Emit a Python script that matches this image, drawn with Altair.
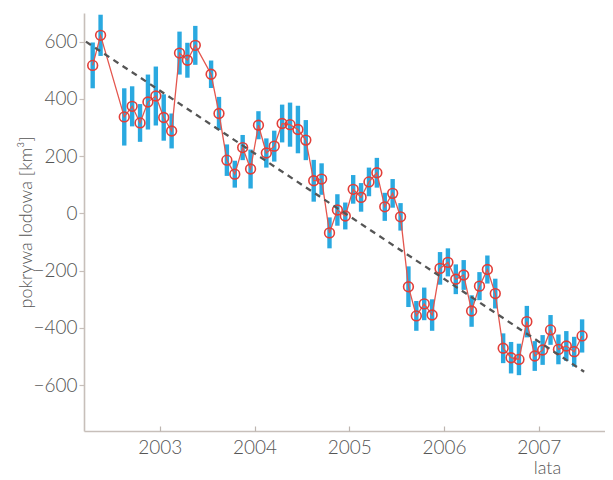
import altair as alt
import pandas as pd

# ---- data ----
years = [2002] * 7 + [2003] * 11 + [2004] * 12 + [2005] * 12 + [2006] * 12 + [2007] * 6
months = [4, 5, 8, 9, 10, 11, 12,
          1, 2, 3, 4, 5, 7, 8, 9, 10, 11, 12,
          1, 2, 3, 4, 5, 6, 7, 8, 9, 10, 11, 12,
          1, 2, 3, 4, 5, 6, 7, 8, 9, 10, 11, 12,
          1, 2, 3, 4, 5, 6, 7, 8, 9, 10, 11, 12,
          1, 2, 3, 4, 5, 6]
values = [517, 622, 337, 374, 316, 389, 410,
          335, 288, 560, 535, 587, 486, 349, 186, 137, 230, 155,
          308, 211, 235, 314, 310, 293, 256, 114, 120, -68, 12, -9,
          84, 56, 110, 142, 23, 70, -12, -256, -358, -316, -355, -192,
          -171, -230, -215, -341, -254, -196, -280, -471, -504, -510, -378, -498,
          -477, -407, -475, -463, -483, -428]
errors = [80, 72, 100, 70, 66, 96, 103,
          81, 61, 75, 61, 68, 48, 58, 55, 47, 44, 68,
          49, 51, 54, 66, 77, 83, 70, 73, 55, 54, 55, 47,
          50, 50, 50, 52, 49, 50, 48, 71, 52, 57, 55, 57,
          49, 52, 52, 55, 49, 49, 52, 52, 55, 55, 55, 52,
          52, 52, 52, 52, 52, 58]
trend_t = [2002.22, 2007.48]
trend_v = [600, -553]
tick_years = [2003, 2004, 2005, 2006, 2007]
y_ticks = [-600, -400, -200, 0, 200, 400, 600]

df = pd.DataFrame({
    "t": [y + (m - 0.5) / 12 for y, m in zip(years, months)],
    "v": values,
    "lo": [v - e for v, e in zip(values, errors)],
    "hi": [v + e for v, e in zip(values, errors)],
})
trend = pd.DataFrame({"t": trend_t, "v": trend_v})

FONT = "Lato"
LABEL = "#555555"
xscale = alt.Scale(domain=[2002.2, 2007.7], nice=False, zero=False)
yscale = alt.Scale(domain=[-760, 700], nice=False, zero=False)

x_main = alt.X("t:Q", scale=xscale, axis=alt.Axis(
    values=tick_years, format="d", title="lata", grid=False,
    ticks=False, tickSize=0, labelPadding=7,
    labelFont=FONT, labelFontSize=19, labelColor=LABEL, labelFontWeight=300,
    domainColor="#c7bfba", domainWidth=1.6,
    titleFont=FONT, titleFontSize=18, titleColor=LABEL, titleFontWeight=300,
    titleX=463, titleY=42, titleAlign="center", titleBaseline="alphabetic"))
y_main = alt.Y("lo:Q", scale=yscale, axis=alt.Axis(
    values=y_ticks, title="pokrywa lodowa [km³]", grid=False,
    tickSize=5, tickColor="#c7bfba", tickWidth=1.2, labelPadding=2,
    labelFont=FONT, labelFontSize=19, labelColor=LABEL, labelFontWeight=300,
    domainColor="#c7bfba", domainWidth=1.6,
    titleFont=FONT, titleFontSize=18, titleColor=LABEL, titleFontWeight=300,
    titleAngle=270, titleX=-53, titleY=209, titleAlign="center",
    titleBaseline="alphabetic"))

bars = alt.Chart(df).mark_rule(color="#2aa9e0", strokeWidth=4.4).encode(
    x=x_main, y=y_main, y2="hi:Q")

line = alt.Chart(df).mark_line(color="#e4564e", strokeWidth=1.3).encode(
    x=alt.X("t:Q", scale=xscale, axis=None),
    y=alt.Y("v:Q", scale=yscale, axis=None))

pts = alt.Chart(df).mark_point(shape="circle", filled=False, color="#e23e38",
                               size=95, strokeWidth=1.6, opacity=1).encode(
    x=alt.X("t:Q", scale=xscale, axis=None),
    y=alt.Y("v:Q", scale=yscale, axis=None))

trend_line = alt.Chart(trend).mark_line(color="#555555", strokeWidth=2.3,
                                        strokeDash=[6, 5]).encode(
    x=alt.X("t:Q", scale=xscale, axis=alt.Axis(
        orient="bottom", offset=-5, values=tick_years, labels=False,
        domain=False, ticks=True, tickSize=5, tickColor="#bdb5b0",
        tickWidth=1.2, grid=False, title=None)),
    y=alt.Y("v:Q", scale=yscale, axis=None))

chart = alt.layer(bars, line, pts, trend_line).resolve_axis(
    x="independent", y="independent"
).properties(
    width=521, height=418,
    autosize=alt.AutoSizeParams(type="none"),
    padding={"left": 76, "top": 5, "right": 0, "bottom": 49},
    background="white",
).configure_view(stroke=None)

chart.save("out.html", embed_options={"renderer": "svg", "actions": False})
